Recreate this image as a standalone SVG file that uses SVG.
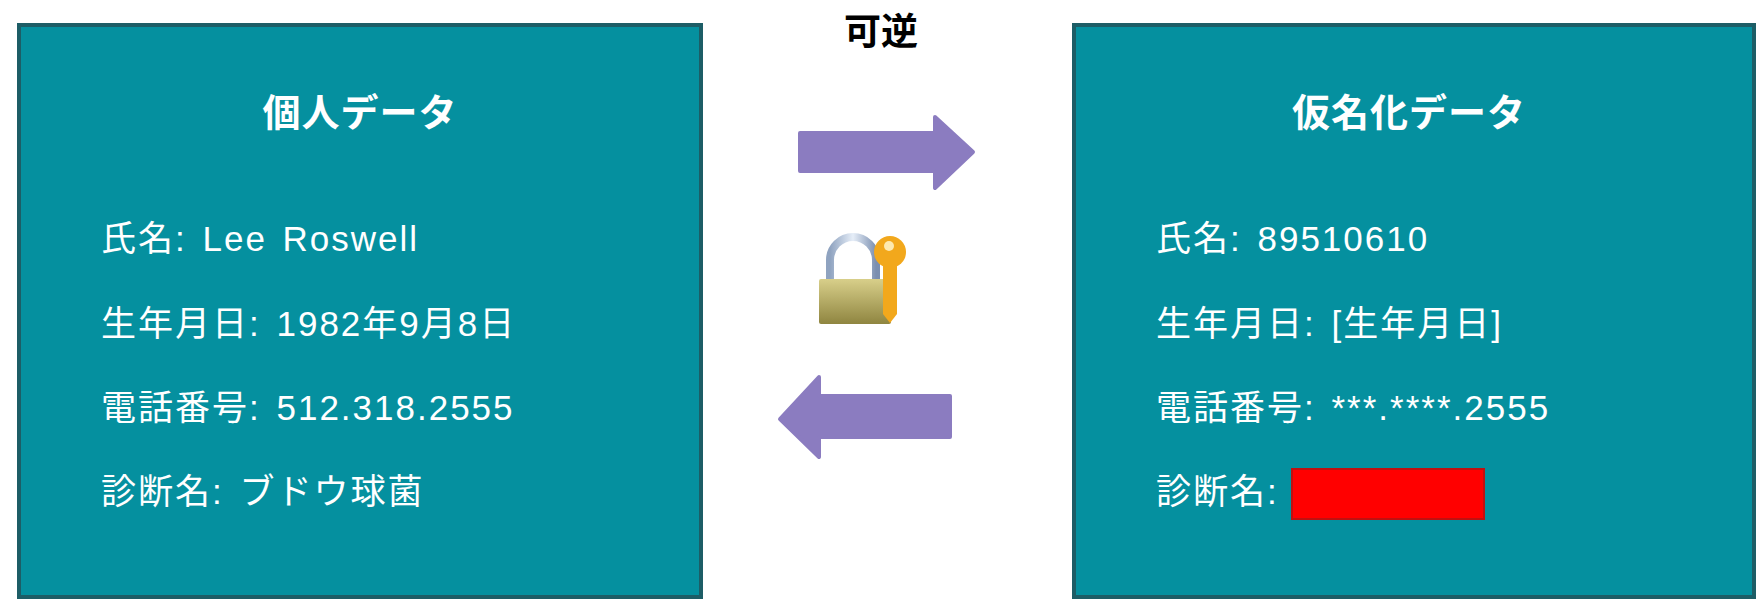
<svg xmlns="http://www.w3.org/2000/svg" width="1760" height="608" viewBox="0 0 1760 608">
<defs>
<style>
.box{fill:#05909f;stroke:#1d5d66;stroke-width:4}
.t{font-family:"Liberation Sans","Noto Sans CJK JP",sans-serif;fill:#fff;font-size:35px;letter-spacing:2px;word-spacing:4px}
.h{font-family:"Liberation Sans","Noto Sans CJK JP",sans-serif;fill:#fff;font-size:38px;font-weight:bold;text-anchor:middle;letter-spacing:1px}
.arr{fill:#8b7cc0;stroke:#8b7cc0;stroke-width:4;stroke-linejoin:round}
</style>
<linearGradient id="brass" x1="0" y1="0" x2="0" y2="1"><stop offset="0" stop-color="#d8cf8a"/><stop offset="1" stop-color="#8f8540"/></linearGradient>
<linearGradient id="shackle" x1="0" y1="0" x2="1" y2="0"><stop offset="0" stop-color="#8fa3c0"/><stop offset="0.5" stop-color="#e6eef8"/><stop offset="1" stop-color="#7b8fb0"/></linearGradient>
</defs>
<rect width="1760" height="608" fill="#fff"/>
<g id="personal">
<rect class="box" x="19" y="25" width="682" height="572"/>
<text class="h" x="360" y="126">個人データ</text>
<text class="t" x="101" y="251">氏名: Lee Roswell</text>
<text class="t" x="101" y="336">生年月日: 1982年9月8日</text>
<text class="t" x="101" y="420">電話番号: 512.318.2555</text>
<text class="t" x="101" y="504">診断名: ブドウ球菌</text>
</g>
<g id="pseudonymized">
<rect class="box" x="1074" y="25" width="680" height="572"/>
<text class="h" x="1409" y="126">仮名化データ</text>
<text class="t" x="1156" y="251">氏名: 89510610</text>
<text class="t" x="1156" y="336">生年月日: [生年月日]</text>
<text class="t" x="1156" y="420">電話番号: ***.****.2555</text>
<text class="t" x="1156" y="504">診断名:</text>
<rect x="1292" y="469" width="192" height="50" fill="#ff0000" stroke="#c01010" stroke-width="2"/>
</g>
<g id="label"><text x="881" y="45" font-family="Liberation Sans,'Noto Sans CJK JP',sans-serif" font-size="37" font-weight="bold" text-anchor="middle" fill="#000">可逆</text></g>
<g id="connectors">
<path class="arr" d="M800 133 H935 V117 L973 152 L935 188 V171 H800 Z"/>
<path class="arr" d="M950 396 H819 V377 L780 419 L819 457 V437 H950 Z"/>
</g>
<g id="lock">
<path d="M830 282 V260 a23 23 0 0 1 46 0 V282" fill="none" stroke="url(#shackle)" stroke-width="8"/>
<rect x="819" y="279" width="72" height="45" rx="2" fill="url(#brass)"/>
<circle cx="890" cy="252" r="16" fill="#f2a81c"/>
<circle cx="889" cy="246" r="5" fill="#fde9b0"/>
<path d="M883 264 H897 V314 L890 323 L883 314 Z" fill="#f2a81c"/>
</g>
</svg>
